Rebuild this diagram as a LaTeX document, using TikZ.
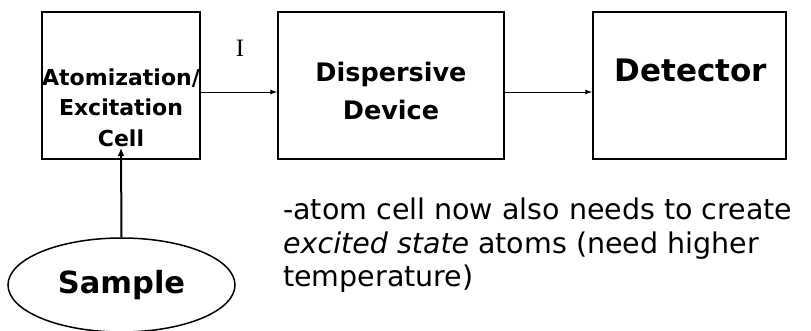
\documentclass[tikz,border=0pt]{standalone}
\usepackage{fontspec}
\setmainfont{DejaVu Sans}
\newfontfamily\serifI{Liberation Serif}
\usetikzlibrary{shapes.geometric,arrows.meta}
\tikzset{
  blockbox/.style={draw, line width=1.5pt, minimum height=147pt, inner sep=0pt},
  boxtext/.style={align=center, font=\bfseries},
  thinarrow/.style={line width=0.9pt, -{Latex[length=7pt,width=5pt]}},
}
\begin{document}
\begin{tikzpicture}[x=1pt,y=-1pt]
\useasboundingbox (0,0) rectangle (811,330);
\node[blockbox, minimum width=158pt] (cell) at (121,85.5) {};
\node[blockbox, minimum width=226pt] (disp) at (391,85.5) {};
\node[blockbox, minimum width=193pt] (det) at (689.5,85.5) {};
\node[boxtext, font=\bfseries\fontsize{22}{30.5}\selectfont] (celltext) at (121,107.5) {Atomization/\\Excitation\\Cell};
\node[boxtext, font=\bfseries\fontsize{25.5}{38}\selectfont] (disptext) at (391,91) {Dispersive\\Device};
\node[boxtext, font=\bfseries\fontsize{31}{34}\selectfont] (dettext) at (691,70) {Detector};
\node[font=\serifI\fontsize{25}{28}\selectfont] (ilabel) at (240,48) {I};
\draw[thinarrow] ([yshift=-6.5pt]cell.east) -- ([yshift=-6.5pt]disp.west);
\draw[thinarrow] ([yshift=-6.5pt]disp.east) -- ([yshift=-6.5pt]det.west);
\node[ellipse, draw, line width=1.5pt, minimum width=227pt, minimum height=94pt, inner sep=0pt, font=\bfseries\fontsize{30.5}{34}\selectfont] (sample) at (121.5,285) {Sample};
\coordinate (tip) at (121,148);
\draw[line width=2pt, -{Latex[length=8pt,width=7pt]}] (sample.north) -- (tip);
\node[anchor=north west, align=left, inner sep=0pt, font=\fontsize{28.5}{33.5}\selectfont] (note) at (283,198)
  {-atom cell now also needs to create\\ \textit{excited state} atoms (need higher\\ temperature)};
\end{tikzpicture}
\end{document}
